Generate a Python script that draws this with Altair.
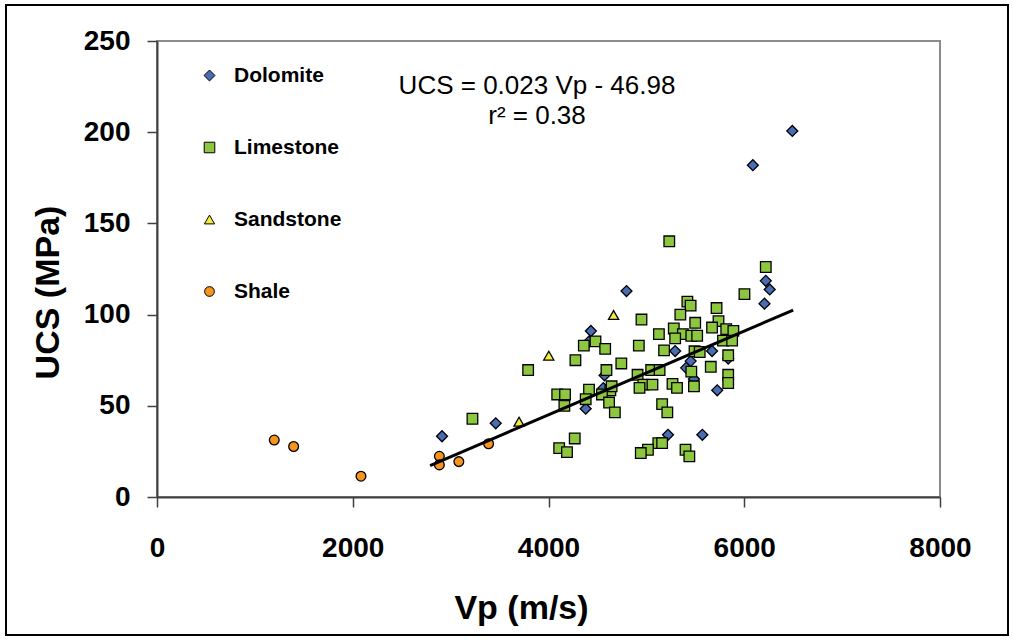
import altair as alt
import pandas as pd

FONT = "Liberation Sans, Arial, sans-serif"

# ---------------- data ----------------
dolomite_vp = [6491, 6088, 4797, 6220, 6260, 6207, 4433, 4415, 5294, 5671, 5836,
               5452, 5406, 4572, 4560, 5486, 5724, 4380, 3461, 2912, 5221, 5572]
dolomite_ucs = [200.7, 181.9, 112.9, 118.5, 113.8, 106.0, 91.0, 85.3, 80.0, 80.0, 75.9,
                74.5, 70.8, 66.7, 59.7, 64.7, 58.5, 48.4, 40.4, 33.3, 34.1, 34.1]

limestone_vp = [5234, 6220, 6002, 5419, 5452, 5717, 5347, 4950, 5737, 5499, 5671, 5280,
                5816, 5889, 5128, 5373, 5459, 5519, 5294, 4480, 5783, 5876, 4361, 4923,
                4579, 5181, 5492, 5545, 5836, 4275, 4744, 5658, 3792, 4592, 5049, 5135,
                5459, 4910, 5836, 4969, 5062, 5267, 5836, 4930, 5313, 5486, 4414, 4632,
                4645, 4089, 4169, 4546, 4380, 4619, 4162, 5161, 5214, 4678, 3223, 4268,
                4109, 5122, 5161, 4189, 5016, 4943, 5400, 5439]
limestone_ucs = [140.2, 126.1, 111.2, 107.1, 104.9, 103.6, 100.0, 97.3, 96.4, 95.5, 92.9, 92.4,
                 92.0, 91.1, 89.3, 89.3, 88.4, 88.4, 87.0, 85.3, 85.7, 85.7, 83.0, 83.0,
                 81.2, 80.4, 79.9, 79.5, 77.7, 75.0, 73.2, 71.4, 69.6, 69.6, 69.6, 69.6,
                 68.7, 67.0, 67.0, 61.6, 61.6, 62.0, 62.5, 59.8, 59.8, 60.7, 58.9, 58.5,
                 60.7, 56.2, 56.2, 56.2, 53.6, 51.8, 50.0, 50.9, 46.4, 46.4, 42.9, 32.1,
                 26.8, 29.5, 29.5, 24.6, 25.9, 24.1, 25.9, 22.3]

sandstone_vp = [4665, 4003, 3699]
sandstone_ucs = [99.8, 77.5, 41.3]

shale_vp = [1198, 1396, 2084, 2885, 2885, 3084, 3388]
shale_ucs = [31.2, 27.7, 11.4, 22.3, 17.6, 19.4, 29.2]

rock_names = ["Dolomite", "Limestone", "Sandstone", "Shale"]
rock_colors = ["#4A6CB3", "#8DC63F", "#F2EC3A", "#F7941D"]
rock_shapes = ["diamond", "square", "triangle-up", "circle"]
rock_sizes = [120, 95, 105, 75]

# regression from the chart annotation
fit_slope = 0.023
fit_intercept = -46.98
fit_vp = [2790, 6500]
eq_lines = ["UCS = 0.023 Vp - 46.98", "r\u00b2 = 0.38"]

x_ticks = [0, 2000, 4000, 6000, 8000]
y_ticks = [0, 50, 100, 150, 200, 250]

# ---------------- tables ----------------
frames = []
for name, vp, ucs in [("Dolomite", dolomite_vp, dolomite_ucs),
                      ("Limestone", limestone_vp, limestone_ucs),
                      ("Sandstone", sandstone_vp, sandstone_ucs),
                      ("Shale", shale_vp, shale_ucs)]:
    frames.append(pd.DataFrame({"Vp": vp, "UCS": ucs, "Rock": name}))
df = pd.concat(frames, ignore_index=True)
df["order"] = range(len(df))

fit_df = pd.DataFrame({"Vp": fit_vp, "UCS": [fit_slope * v + fit_intercept for v in fit_vp]})

xscale = alt.Scale(domain=[0, 8000], nice=False, zero=True)
yscale = alt.Scale(domain=[0, 250], nice=False, zero=True)

x_axis = alt.Axis(values=x_ticks, title="Vp (m/s)", grid=False, format="d",
                  domainColor="#404040", domainWidth=2, tickColor="#404040", tickWidth=1.5,
                  tickSize=10, labelFontSize=28, labelFontWeight="bold", labelFont=FONT,
                  labelColor="black", labelPadding=27, titleFont=FONT, titleFontSize=34,
                  titleFontWeight="bold", titleColor="black", titleX=364, titleY=111,
                  titleBaseline="middle", titleAlign="center", labelFlush=False)
y_axis = alt.Axis(values=y_ticks, title="UCS (MPa)", grid=False,
                  domainColor="#404040", domainWidth=2, tickColor="#404040", tickWidth=1.5,
                  tickSize=10, labelFontSize=28, labelFontWeight="bold", labelFont=FONT,
                  labelColor="black", labelPadding=17, titleFont=FONT, titleFontSize=34,
                  titleFontWeight="bold", titleColor="black", titleX=-109, titleY=251,
                  titleBaseline="middle", titleAlign="center", titleAngle=270)

legend = alt.Legend(title=None, orient="none", legendX=42, legendY=24, direction="vertical",
                    padding=0, rowPadding=50, symbolSize=55, symbolStrokeColor="black",
                    symbolStrokeWidth=1, labelFontSize=21, labelFontWeight="bold",
                    labelFont=FONT, labelColor="black", labelOffset=14, labelLimit=300)

points = alt.Chart(df).mark_point(filled=True, stroke="black", strokeWidth=1.3, opacity=1).encode(
    x=alt.X("Vp:Q", scale=xscale, axis=x_axis),
    y=alt.Y("UCS:Q", scale=yscale, axis=y_axis),
    color=alt.Color("Rock:N", scale=alt.Scale(domain=rock_names, range=rock_colors), legend=legend),
    shape=alt.Shape("Rock:N", scale=alt.Scale(domain=rock_names, range=rock_shapes), legend=legend),
    size=alt.Size("Rock:N", scale=alt.Scale(domain=rock_names, range=rock_sizes), legend=None),
    order=alt.Order("order:Q"),
)

line = alt.Chart(fit_df).mark_line(color="black", strokeWidth=3).encode(
    x=alt.X("Vp:Q", scale=xscale),
    y=alt.Y("UCS:Q", scale=yscale),
)

eq_df = pd.DataFrame({"t": eq_lines, "row": [0, 1]})
eq1 = alt.Chart(eq_df.iloc[[0]]).mark_text(fontSize=26, font=FONT, color="black",
                                           align="center", baseline="alphabetic").encode(
    text="t:N", x=alt.value(380), y=alt.value(53))
eq2 = alt.Chart(eq_df.iloc[[1]]).mark_text(fontSize=26, font=FONT, color="black",
                                           align="center", baseline="alphabetic").encode(
    text="t:N", x=alt.value(380), y=alt.value(83))

border = alt.Chart(pd.DataFrame({"a": [1]})).mark_rect(
    fill=None, stroke="black", strokeWidth=2, clip=False).encode(
    x=alt.value(-151), x2=alt.value(851), y=alt.value(-36), y2=alt.value(594))

chart = alt.layer(border, points, line, eq1, eq2).properties(
    width=783, height=456,
    autosize=alt.AutoSizeParams(type="none"),
    padding={"left": 157, "top": 41, "right": 73, "bottom": 143},
    background="white",
).configure_view(stroke="#8C8C8C", strokeWidth=2)

chart.save("out.html", embed_options={"renderer": "svg", "actions": False})
